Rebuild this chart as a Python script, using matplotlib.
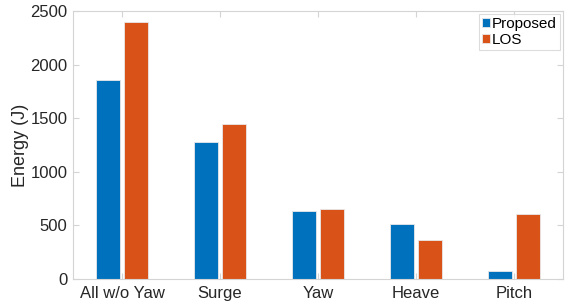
import matplotlib
matplotlib.use("Agg")
import matplotlib.pyplot as plt
import numpy as np

categories = ["All w/o Yaw", "Surge", "Yaw", "Heave", "Pitch"]
proposed = [1860, 1275, 630, 510, 75]
los = [2400, 1445, 655, 360, 605]
series_names = ["Proposed", "LOS"]
yticks = [0, 500, 1000, 1500, 2000, 2500]

plt.rcParams['font.family'] = ['Liberation Sans', 'DejaVu Sans']

fig = plt.figure(figsize=(5.73, 3.04), dpi=100)
ax = fig.add_axes([73/573, 1 - 279/304, (563-73)/573, (279-11)/304])

x = np.arange(1, len(categories) + 1)
w = 0.24
off = 0.143
ax.bar(x - off, proposed, w, color='#0072BD', edgecolor='#e8e8e8', linewidth=0.6, label=series_names[0])
ax.bar(x + off, los, w, color='#D95319', edgecolor='#e8e8e8', linewidth=0.6, label=series_names[1])

ax.set_xlim(0.5, 5.5)
ax.set_ylim(0, 2500)
ax.set_xticks(x)
ax.set_xticklabels(categories)
ax.set_yticks(yticks)
ax.set_ylabel("Energy (J)", fontsize=13, color='#262626', labelpad=1)

for s in ax.spines.values():
    s.set_color('#d4d4d4')
    s.set_linewidth(0.8)
ax.tick_params(direction='in', length=4, width=0.8, color='#d4d4d4',
               labelcolor='#262626', labelsize=12, top=True, right=True)
ax.tick_params(axis='x', pad=5)
ax.tick_params(axis='y', pad=4)

leg = ax.legend(loc='upper right', fontsize=11, frameon=True, fancybox=False,
                edgecolor='#d4d4d4', handlelength=0.55, handleheight=0.55,
                handletextpad=0.1, borderpad=0.2, labelspacing=0.1,
                borderaxespad=0.2)
leg.get_frame().set_linewidth(0.8)

fig.savefig("out.png", dpi=100)
